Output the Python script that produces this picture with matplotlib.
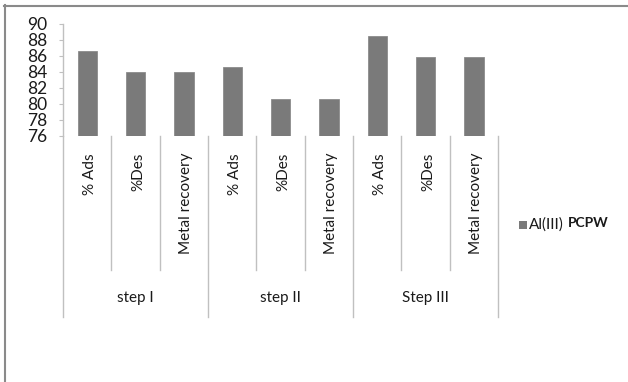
import matplotlib
matplotlib.use("Agg")
import matplotlib.pyplot as plt
from matplotlib.lines import Line2D
from matplotlib.patches import Rectangle
import numpy as np

# data
groups = ["step I", "step II", "Step III"]
measures = ["% Ads", "%Des", "Metal recovery"]
al_pcpw = [86.6, 84.0, 84.0, 84.6, 80.6, 80.6, 88.5, 85.9, 85.9]
y_ticks = [76, 78, 80, 82, 84, 86, 88, 90]

plt.rcParams['font.family'] = ['Lato', 'DejaVu Sans']
txt_col = '#1a1a1a'
line_col = '#c0c0c0'
bar_col = '#7a7a7a'

W, H = 628, 382
fig = plt.figure(figsize=(W / 100, H / 100), dpi=100)
fig.patch.set_facecolor('white')

# axes box in pixels: left 63, right 498, top 24, bottom 135.6
ax_l, ax_r, ax_t, ax_b = 63, 498, 24, 135.6
ax = fig.add_axes([ax_l / W, 1 - ax_b / H, (ax_r - ax_l) / W, (ax_b - ax_t) / H])

n = len(al_pcpw)
x = np.arange(n)
ax.bar(x, np.array(al_pcpw) - y_ticks[0], bottom=y_ticks[0], width=0.4,
       color=bar_col, edgecolor='#8c8c8c', linewidth=0.6, zorder=3)

ax.set_xlim(-0.5, n - 0.5)
ax.set_ylim(y_ticks[0], y_ticks[-1])
ax.set_yticks(y_ticks)
ax.set_yticklabels([str(t) for t in y_ticks], fontsize=12.5, color=txt_col)
ax.tick_params(axis='y', length=3, width=0.8, color=line_col, pad=8)
ax.set_xticks([])
for s in ['top', 'right', 'bottom']:
    ax.spines[s].set_visible(False)
ax.spines['left'].set_color(line_col)
ax.spines['left'].set_linewidth(1.0)

# multi-level category axis below the plot
trans = ax.get_xaxis_transform()
ax_h = ax_b - ax_t
def frac(py):
    return (ax_b - py) / ax_h

for b in range(n + 1):
    xb = b - 0.5
    if b % 3 == 0:
        yend = frac(317)
    else:
        yend = frac(270)
    ax.plot([xb, xb], [0, yend], transform=trans, color=line_col, lw=1.0, clip_on=False)

for i in range(n):
    ax.text(i + 0.05, frac(153), measures[i % 3], transform=trans, rotation=90,
            ha='center', va='top', fontsize=11, color=txt_col)

for g, name in enumerate(groups):
    ax.text(g * 3 + 1, frac(298), name, transform=trans, ha='center', va='center',
            fontsize=11, color=txt_col)

# legend, drawn by hand: grey square, "Al(III)" and bold "PCPW"
fig.add_artist(Rectangle((519 / W, 1 - 229 / H), 8 / W, 8 / H, transform=fig.transFigure,
                         facecolor=bar_col, edgecolor='none'))
fig.text(529 / W, 1 - 224.5 / H, 'Al(III)', fontsize=11, va='center', ha='left', color=txt_col)
fig.text(568 / W, 1 - 222.5 / H, 'PCPW', fontsize=10, fontweight='bold',
         va='center', ha='left', color=txt_col)

# outer frame (only top and left visible in the crop)
fig.add_artist(Line2D([4 / W, 1], [1 - 5.5 / H, 1 - 5.5 / H], transform=fig.transFigure,
                      color='#8a8a8a', lw=1.5))
fig.add_artist(Line2D([4.5 / W, 4.5 / W], [0, 1 - 5 / H], transform=fig.transFigure,
                      color='#8a8a8a', lw=1.5))

fig.savefig('out.png', dpi=100, facecolor='white')
